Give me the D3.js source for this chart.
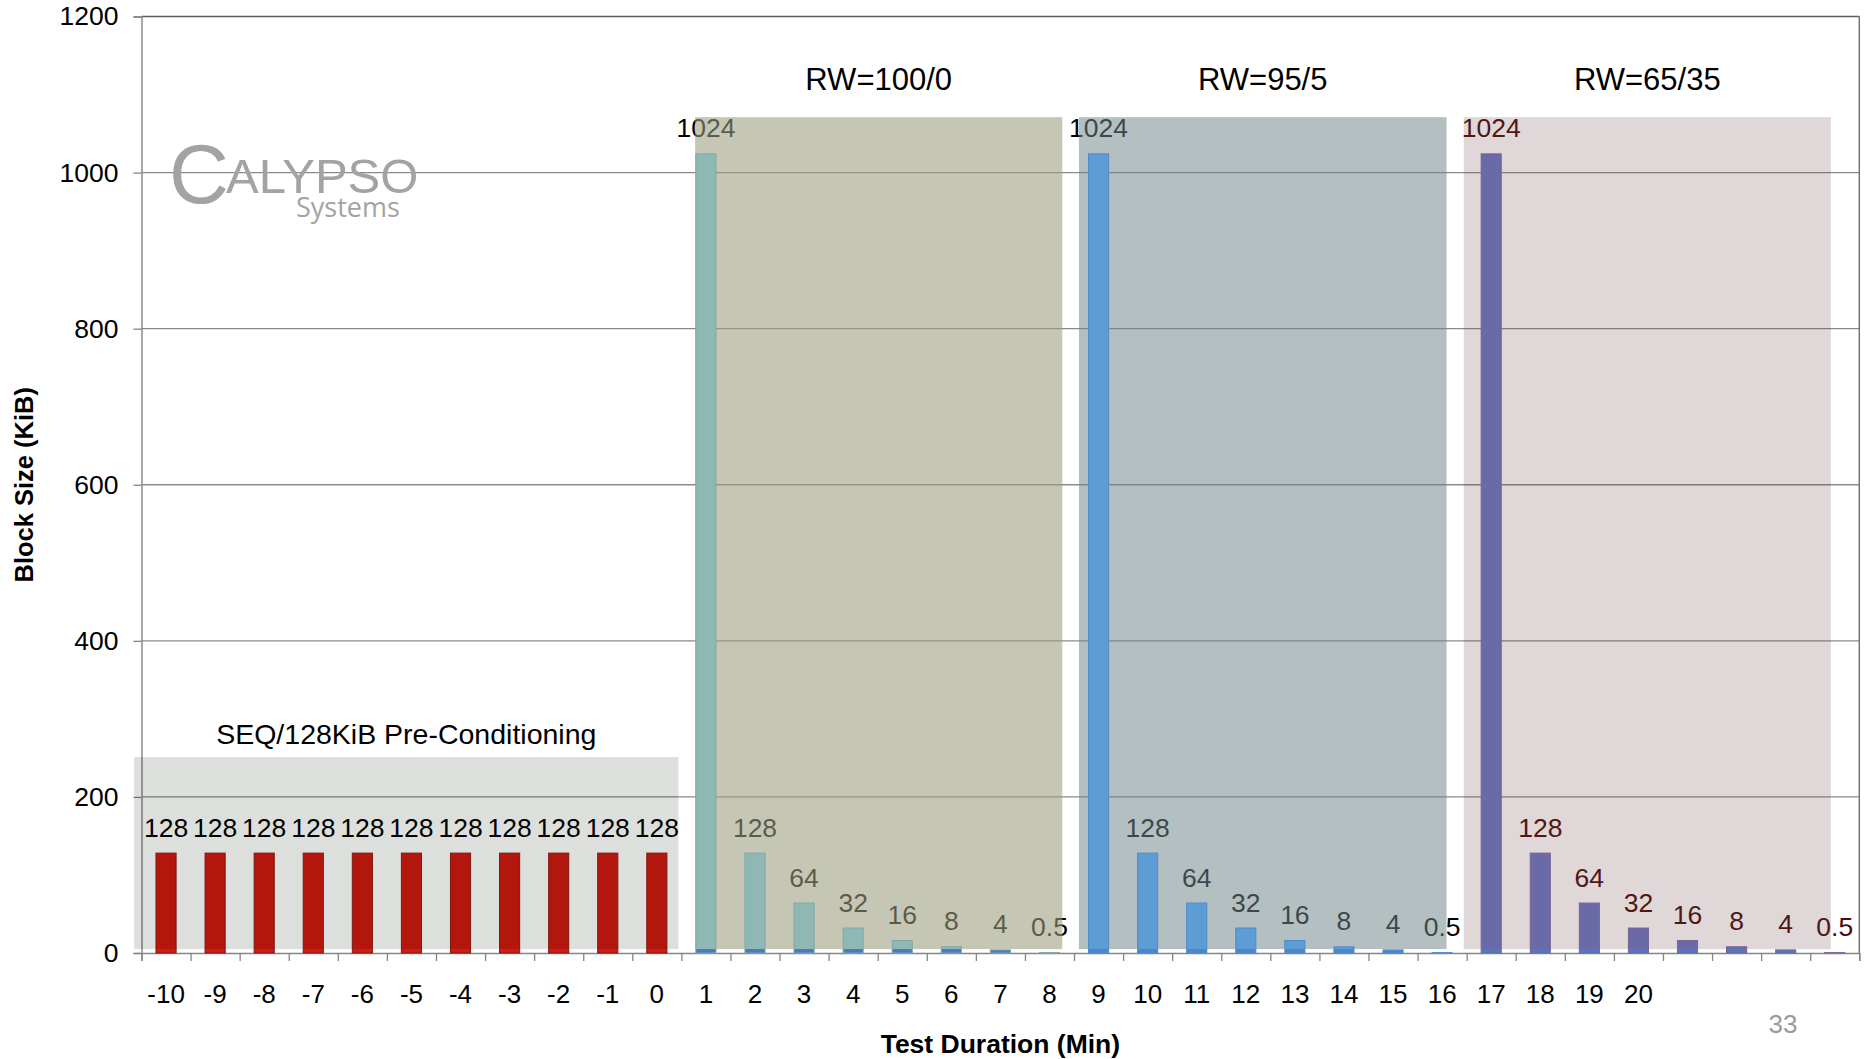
<!DOCTYPE html>
<html>
<head>
<meta charset="utf-8">
<script src="https://cdn.jsdelivr.net/npm/d3@7"></script>
<style>
  html, body { margin: 0; padding: 0; background: #ffffff; }
  svg { display: block; font-family: "Liberation Sans", Arial, sans-serif; }
</style>
</head>
<body>
<svg id="chart" width="1865" height="1059"></svg>
<script>
// ---- data -------------------------------------------------------------
const minutes = ["-10","-9","-8","-7","-6","-5","-4","-3","-2","-1","0",
                 "1","2","3","4","5","6","7","8",
                 "9","10","11","12","13","14","15","16",
                 "17","18","19","20","21","22","23","24"];
const tickLabels = ["-10","-9","-8","-7","-6","-5","-4","-3","-2","-1","0",
                    "1","2","3","4","5","6","7","8",
                    "9","10","11","12","13","14","15","16",
                    "17","18","19","20","","","",""];
const preconditioning = [128, 128, 128, 128, 128, 128, 128, 128, 128, 128, 128];
const rw100 = [1024, 128, 64, 32, 16, 8, 4, 0.5];
const rw95  = [1024, 128, 64, 32, 16, 8, 4, 0.5];
const rw65  = [1024, 128, 64, 32, 16, 8, 4, 0.5];
const phaseNames = ["SEQ/128KiB Pre-Conditioning", "RW=100/0", "RW=95/5", "RW=65/35"];
const yTicks = [0, 200, 400, 600, 800, 1000, 1200];
const pageNumber = "33";

// ---- layout -------------------------------------------------------------
const plot = { left: 141.5, right: 1859.3, top: 16.5, bottom: 953 };

// phase shading boxes, in category units (x) and block-size units (y)
const phaseBoxes = [
  { x0: -10.65, x1: 0.44,  y0: 5, y1: 251,  fill: "rgb(5,20,0)",       opacity: 0.137 },
  { x0: 0.78,   x1: 8.26,  y0: 5, y1: 1071, fill: "rgb(157,157,126)",  opacity: 0.58 },
  { x0: 8.60,   x1: 16.09, y0: 5, y1: 1071, fill: "rgb(113,134,138)",  opacity: 0.53 },
  { x0: 16.44,  x1: 23.92, y0: 5, y1: 1071, fill: "rgb(110,70,70)",    opacity: 0.21 }
];
// bar look per phase: colour seen through the shading, colour below it, outline, label colour
const phaseStyle = [
  { top: "#b3160d", base: "#d41812", stroke: "#7e1810", label: "#000000" },
  { top: "#8fb8b5", base: "#4c78c4", stroke: "#7fa9a8", label: "#000000" },
  { top: "#5e9cd6", base: "#4a86d0", stroke: "#4f8cc6", label: "#000000" },
  { top: "#6a6aa8", base: "#5179c2", stroke: "#7a6497", label: "#4a0a0a" }
];

const rows = [];
[preconditioning, rw100, rw95, rw65].forEach((series, p) => {
  series.forEach(v => rows.push({ minute: minutes[rows.length], value: v, phase: p }));
});

// ---- scales -------------------------------------------------------------
const x = d3.scaleBand().domain(minutes)
  .range([plot.left, plot.right]).paddingInner(0.59).paddingOuter(0.295);
const xc = d3.scaleLinear().domain([-10.5, 24.5]).range([plot.left, plot.right]);
const y = d3.scaleLinear().domain([0, 1200]).range([plot.bottom, plot.top]);

const svg = d3.select("#chart");
const defs = svg.append("defs");

// gradients: the bar foot below the shading shows its plain colour
phaseStyle.forEach((s, i) => {
  const g = defs.append("linearGradient")
    .attr("id", "barFill" + i)
    .attr("gradientUnits", "userSpaceOnUse")
    .attr("x1", 0).attr("x2", 0)
    .attr("y1", y(5)).attr("y2", y(0));
  g.append("stop").attr("offset", 0).attr("stop-color", s.top);
  g.append("stop").attr("offset", 0.01).attr("stop-color", s.base);
  g.append("stop").attr("offset", 1).attr("stop-color", s.base);
});

// ---- gridlines and frame ------------------------------------------------
svg.append("g").selectAll("line")
  .data(yTicks.filter(t => t > 0 && t < 1200))
  .join("line")
  .attr("x1", plot.left).attr("x2", plot.right)
  .attr("y1", d => y(d)).attr("y2", d => y(d))
  .attr("stroke", "#8a8a8a").attr("stroke-width", 1.3);

svg.append("line")
  .attr("x1", plot.left).attr("x2", plot.right)
  .attr("y1", y(1200)).attr("y2", y(1200))
  .attr("stroke", "#5e5e5e").attr("stroke-width", 1.4);
svg.append("line")
  .attr("x1", plot.right).attr("x2", plot.right)
  .attr("y1", y(1200)).attr("y2", y(0))
  .attr("stroke", "#6e6e6e").attr("stroke-width", 1.4);

// ---- y axis -------------------------------------------------------------
const yAxis = svg.append("g")
  .attr("transform", `translate(${plot.left},0)`)
  .call(d3.axisLeft(y).tickValues(yTicks).tickSize(8).tickPadding(15).tickFormat(d3.format("d")));
yAxis.select(".domain").attr("stroke", "#858585").attr("stroke-width", 1.4);
yAxis.selectAll(".tick line").attr("stroke", "#858585").attr("stroke-width", 1.3);
yAxis.selectAll(".tick text")
  .attr("font-size", 26.5).attr("fill", "#000").attr("font-family", "Liberation Sans, Arial, sans-serif");

// ---- x axis -------------------------------------------------------------
const xAxis = svg.append("g")
  .attr("transform", `translate(0,${plot.bottom})`)
  .call(d3.axisBottom(x).tickSize(0).tickPadding(31.5).tickFormat((d, i) => tickLabels[i]));
xAxis.select(".domain").remove();
xAxis.selectAll(".tick text")
  .attr("font-size", 26).attr("fill", "#000").attr("font-family", "Liberation Sans, Arial, sans-serif");

// tick marks sit between categories
const boundaries = minutes.map((m, i) => i - 10.5).concat([24.5]);
const xTicks = svg.append("g")
  .attr("transform", `translate(0,${plot.bottom})`)
  .call(d3.axisBottom(xc).tickValues(boundaries).tickSize(8).tickFormat(""));
xTicks.select(".domain").attr("stroke", "#858585").attr("stroke-width", 1.4);
xTicks.selectAll(".tick line").attr("stroke", "#858585").attr("stroke-width", 1.3);

// ---- value labels (beneath the shading, which tints them) ----------------
svg.append("g").selectAll("text")
  .data(rows)
  .join("text")
  .attr("x", d => x(d.minute) + x.bandwidth() / 2)
  .attr("y", d => y(d.value) - 16.5)
  .attr("text-anchor", "middle")
  .attr("font-size", 26.5)
  .attr("fill", d => phaseStyle[d.phase].label)
  .text(d => d.value);

// ---- phase shading -------------------------------------------------------
svg.append("g").selectAll("rect")
  .data(phaseBoxes)
  .join("rect")
  .attr("x", d => xc(d.x0))
  .attr("width", d => xc(d.x1) - xc(d.x0))
  .attr("y", d => y(d.y1))
  .attr("height", d => y(d.y0) - y(d.y1))
  .attr("fill", d => d.fill)
  .attr("fill-opacity", d => d.opacity);

// ---- bars ----------------------------------------------------------------
svg.append("g").selectAll("rect")
  .data(rows)
  .join("rect")
  .attr("x", d => x(d.minute))
  .attr("width", x.bandwidth())
  .attr("y", d => y(d.value))
  .attr("height", d => y(0) - y(d.value))
  .attr("fill", d => `url(#barFill${d.phase})`)
  .attr("stroke", d => phaseStyle[d.phase].stroke)
  .attr("stroke-width", 1);

// ---- phase titles --------------------------------------------------------
svg.append("g").selectAll("text")
  .data(phaseNames)
  .join("text")
  .attr("x", (d, i) => (xc(phaseBoxes[i].x0) + xc(phaseBoxes[i].x1)) / 2)
  .attr("y", (d, i) => i === 0 ? 744 : 90)
  .attr("text-anchor", "middle")
  .attr("font-size", (d, i) => i === 0 ? 28.5 : 31)
  .attr("fill", "#000")
  .text(d => d);

// ---- axis titles ---------------------------------------------------------
svg.append("text")
  .attr("transform", `translate(33,${(plot.top + plot.bottom) / 2}) rotate(-90)`)
  .attr("text-anchor", "middle")
  .attr("font-size", 25.5).attr("font-weight", "bold")
  .text("Block Size (KiB)");

svg.append("text")
  .attr("x", (plot.left + plot.right) / 2).attr("y", 1053)
  .attr("text-anchor", "middle")
  .attr("font-size", 26.5).attr("font-weight", "bold")
  .text("Test Duration (Min)");

// ---- logo (one text block: wordmark with the tagline below) --------------
const logo = svg.append("text").attr("fill", "#a3a3a3");
logo.append("tspan").attr("x", 169).attr("y", 203)
  .attr("font-size", 83).text("C");
logo.append("tspan").attr("y", 193)
  .attr("font-size", 49).attr("dx", -3).text("ALYPSO");
logo.append("tspan").attr("x", 296).attr("y", 217)
  .attr("font-size", 27).attr("font-family", "'Open Sans', sans-serif").text("Systems");

// ---- page number ---------------------------------------------------------
svg.append("text")
  .attr("x", 1783).attr("y", 1033)
  .attr("text-anchor", "middle")
  .attr("font-size", 26).attr("fill", "#9a9a9a")
  .text(pageNumber);
</script>
</body>
</html>
